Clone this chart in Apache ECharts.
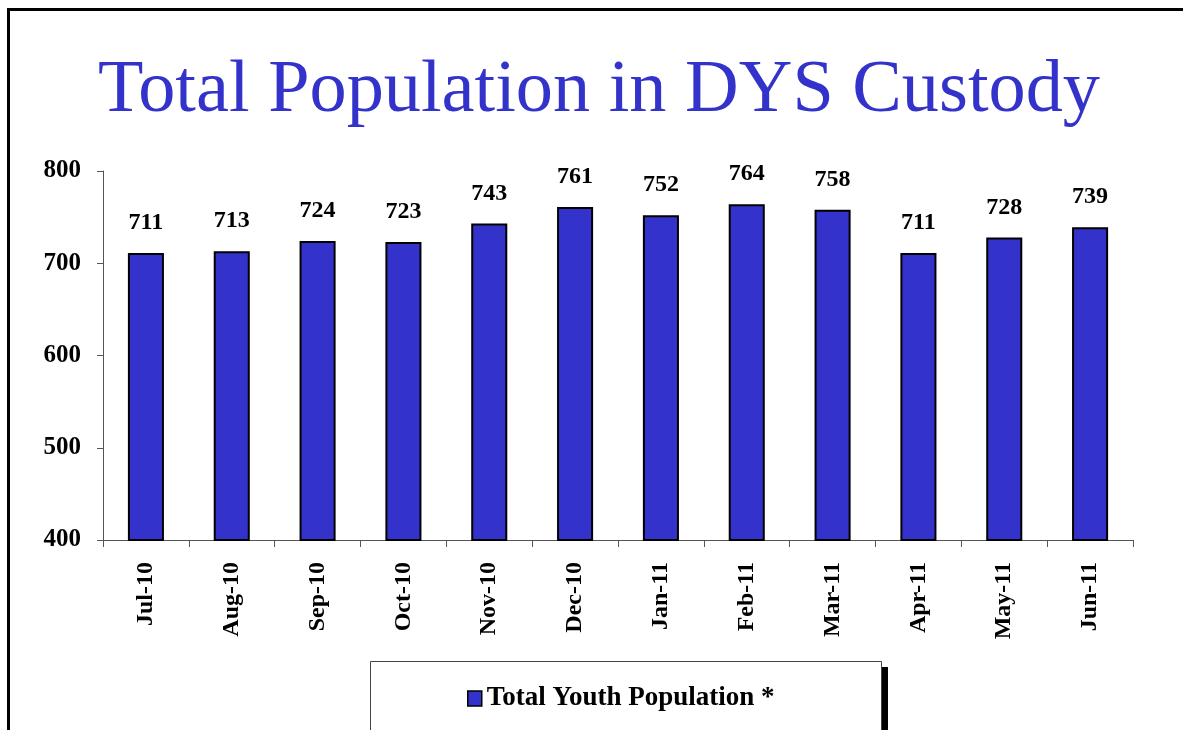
<!DOCTYPE html>
<html>
<head>
<meta charset="utf-8">
<script src="https://cdn.jsdelivr.net/npm/echarts@6/dist/echarts.min.js"></script>
<style>html,body{margin:0;padding:0;background:#fff;}#c{width:1183px;height:730px;}</style>
</head>
<body>
<div id="c"></div>
<script>
const categories = ['Jul-10','Aug-10','Sep-10','Oct-10','Nov-10','Dec-10','Jan-11','Feb-11','Mar-11','Apr-11','May-11','Jun-11'];
const youthPopulation = [711, 713, 724, 723, 743, 761, 752, 764, 758, 711, 728, 739];
const seriesName = 'Total Youth Population *';
const titleText = 'Total Population in DYS Custody';

const serif = '"Liberation Serif", "Times New Roman", serif';
const chart = echarts.init(document.getElementById('c'), null, {renderer: 'canvas'});
chart.setOption({
  animation: false,
  backgroundColor: '#fff',
  title: {
    text: titleText,
    left: 93,
    top: 49,
    textStyle: {fontFamily: serif, fontSize: 74.3, fontWeight: 'normal', color: '#3333CC'}
  },
  graphic: [
    {type: 'rect', silent: true, z: 0, shape: {x: 7, y: 8, width: 1190, height: 3}, style: {fill: '#000'}},
    {type: 'rect', silent: true, z: 0, shape: {x: 7, y: 8, width: 3, height: 730}, style: {fill: '#000'}},
    {type: 'rect', silent: true, z: 0, shape: {x: 376, y: 667, width: 512, height: 80}, style: {fill: '#000'}},
    {type: 'rect', silent: true, z: 1, shape: {x: 370.5, y: 661.5, width: 511, height: 80}, style: {fill: '#fff', stroke: '#444', lineWidth: 1}}
  ],
  legend: {
    data: [seriesName],
    left: 462,
    top: 680,
    icon: 'rect',
    itemWidth: 14,
    itemHeight: 15,
    itemGap: 5,
    z: 10,
    itemStyle: {borderColor: '#000', borderWidth: 1.5},
    textStyle: {fontFamily: serif, fontSize: 27, fontWeight: 'bold', color: '#000'}
  },
  grid: {left: 103, right: 50, top: 171, bottom: 190, containLabel: false},
  xAxis: {
    type: 'category',
    data: categories,
    axisLine: {lineStyle: {color: '#555', width: 1}},
    axisTick: {show: true, length: 7, lineStyle: {color: '#555'}},
    axisLabel: {rotate: 90, margin: 22, fontFamily: serif, fontSize: 24, fontWeight: 'bold', color: '#000'}
  },
  yAxis: {
    type: 'value',
    min: 400,
    max: 800,
    interval: 100,
    splitLine: {show: false},
    axisLine: {show: true, lineStyle: {color: '#555', width: 1}},
    axisTick: {show: true, length: 6, lineStyle: {color: '#555'}},
    axisLabel: {margin: 22, fontFamily: serif, fontSize: 25, fontWeight: 'bold', color: '#000'}
  },
  series: [{
    name: seriesName,
    type: 'bar',
    data: youthPopulation,
    barWidth: '42%',
    itemStyle: {color: '#3333CC', borderColor: '#000', borderWidth: 2},
    label: {show: true, position: 'top', distance: 18, fontFamily: serif, fontSize: 24, fontWeight: 'bold', color: '#000'}
  }]
});
</script>
</body>
</html>
